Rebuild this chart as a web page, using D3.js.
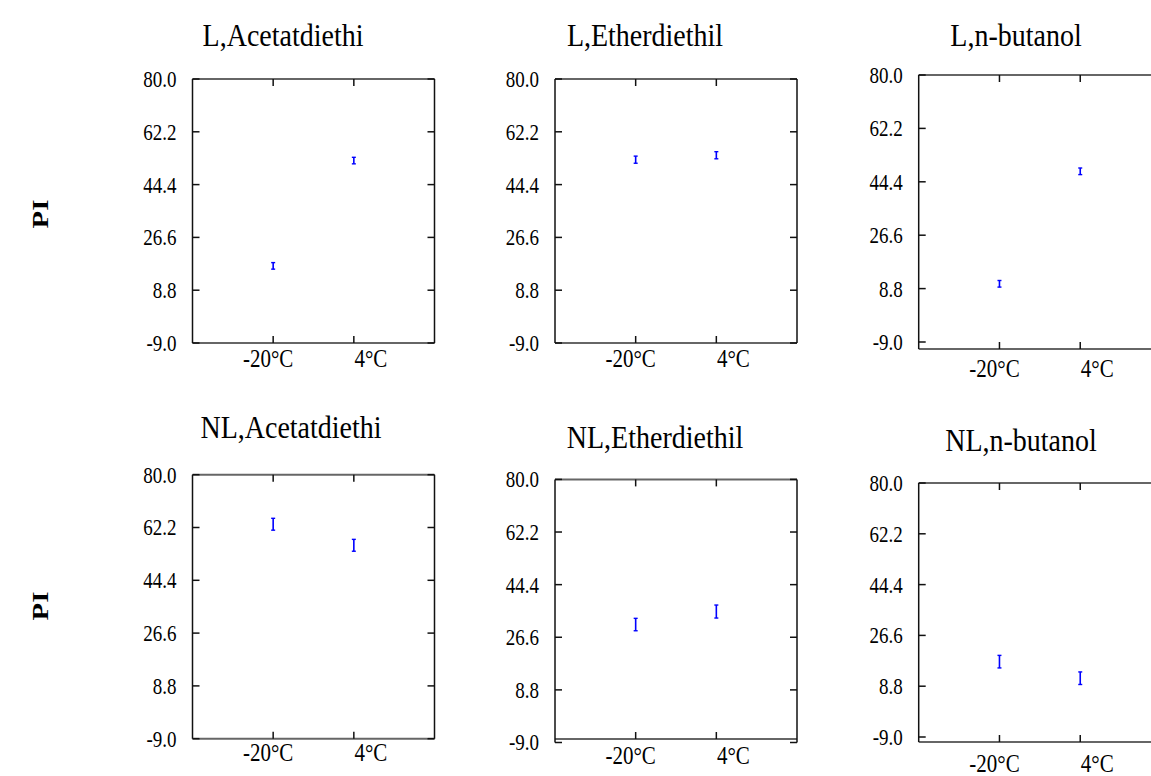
<!DOCTYPE html>
<html>
<head>
<meta charset="utf-8">
<script src="https://cdn.jsdelivr.net/npm/d3@7"></script>
<style>
  html, body { margin: 0; padding: 0; background: #fff; }
  svg { display: block; }
  text { font-family: "Liberation Serif", "Times New Roman", serif; fill: #000; }
</style>
</head>
<body>
<svg id="chart" width="1151" height="776"></svg>
<script>
// Panel titles (row-major: top row = L, bottom row = NL)
const panelTitles = ["L,Acetatdiethi", "L,Etherdiethil", "L,n-butanol",
                     "NL,Acetatdiethi", "NL,Etherdiethil", "NL,n-butanol"];
// Storage temperatures on the x axis
const categories = ["-20°C", "4°C"];
// Y tick values
const yTicks = [-9.0, 8.8, 26.6, 44.4, 62.2, 80.0];
const yDomain = [-9.0, 80.0];
// Mean PI per panel, per temperature
const meanPI = [
  [17.0, 52.5],
  [52.8, 54.3],
  [10.4, 47.9],
  [63.3, 56.2],
  [30.9, 35.3],
  [17.4, 11.6]
];
// Error half-widths per panel, per temperature
const errPI = [
  [1.1, 1.1],
  [1.2, 1.2],
  [1.1, 1.1],
  [2.0, 2.0],
  [2.1, 2.2],
  [2.2, 2.2]
];
const yLabel = "PI";

// Panel frames (pixels)
const layout = [
  {left: 192.5, right: 434.5, yTop: 79,    yBot: 343,   boxTop: 79,  boxBot: 343, labY: 358, title: [283, 35]},
  {left: 555,   right: 797,   yTop: 79,    yBot: 343,   boxTop: 79,  boxBot: 343, labY: 358, title: [645, 35]},
  {left: 918.7, right: 1161,  yTop: 75,    yBot: 342,   boxTop: 75,  boxBot: 349, labY: 368, title: [1016, 35]},
  {left: 192.5, right: 434.5, yTop: 474.7, yBot: 738.7, boxTop: 474.7, boxBot: 738.7, labY: 752, title: [291, 427]},
  {left: 555,   right: 797,   yTop: 479.4, yBot: 742.5, boxTop: 479.4, boxBot: 739, labY: 755, title: [655, 437]},
  {left: 918.7, right: 1161,  yTop: 483,   yBot: 737,   boxTop: 483, boxBot: 742, labY: 763, title: [1021, 440]}
];
const rowLabelY = [214, 606];

const svg = d3.select("#chart");
const tickLen = 7;
// plain hyphen for negative numbers
const fmt = v => d3.format(".1f")(v).replace("\u2212", "-");

layout.forEach((L, i) => {
  const g = svg.append("g");
  const x = d3.scalePoint().domain(categories).range([L.left, L.right]).padding(1);
  const y = d3.scaleLinear().domain(yDomain).range([L.yBot, L.yTop]);

  const vTop = Math.min(L.yTop, L.boxTop), vBot = Math.max(L.yBot, L.boxBot);

  // frame: horizontal edges grey, vertical edges dark
  g.append("line").attr("x1", L.left).attr("x2", L.right).attr("y1", L.boxTop).attr("y2", L.boxTop)
    .attr("stroke", "#666").attr("stroke-width", 2);
  g.append("line").attr("x1", L.left).attr("x2", L.right).attr("y1", L.boxBot).attr("y2", L.boxBot)
    .attr("stroke", "#666").attr("stroke-width", 2);
  [L.left, L.right].forEach(xx => {
    g.append("line").attr("x1", xx).attr("x2", xx).attr("y1", vTop).attr("y2", vBot)
      .attr("stroke", "#111").attr("stroke-width", 1.5);
  });

  // y ticks (inside, both sides) and labels
  yTicks.forEach(t => {
    const yy = y(t);
    g.append("line").attr("x1", L.left).attr("x2", L.left + tickLen).attr("y1", yy).attr("y2", yy)
      .attr("stroke", "#111").attr("stroke-width", 1.5);
    g.append("line").attr("x1", L.right - tickLen).attr("x2", L.right).attr("y1", yy).attr("y2", yy)
      .attr("stroke", "#111").attr("stroke-width", 1.5);
    g.append("text")
      .attr("transform", `translate(${L.left - 16},${yy}) scale(1,1.2)`)
      .attr("text-anchor", "end").attr("dy", "0.35em")
      .style("font-size", "19px")
      .text(fmt(t));
  });

  // x ticks (inside, top and bottom) and labels
  const labDx = [-5, 17];
  categories.forEach((c, k) => {
    const xx = x(c);
    g.append("line").attr("x1", xx).attr("x2", xx).attr("y1", L.boxTop).attr("y2", L.boxTop + tickLen)
      .attr("stroke", "#111").attr("stroke-width", 1.5);
    g.append("line").attr("x1", xx).attr("x2", xx).attr("y1", L.boxBot - tickLen).attr("y2", L.boxBot)
      .attr("stroke", "#111").attr("stroke-width", 1.5);
    g.append("text")
      .attr("transform", `translate(${xx + labDx[k]},${L.labY}) scale(1,1.2)`)
      .attr("text-anchor", "middle").attr("dy", "0.35em")
      .style("font-size", "21px")
      .text(c);
  });

  // title
  g.append("text")
    .attr("transform", `translate(${L.title[0]},${L.title[1]}) scale(1,1.15)`)
    .attr("text-anchor", "middle").attr("dy", "0.35em")
    .style("font-size", "28px")
    .text(panelTitles[i]);

  // error bars
  categories.forEach((c, k) => {
    const xx = x(c), m = meanPI[i][k], e = errPI[i][k];
    const y1 = y(m + e), y2 = y(m - e);
    g.append("line").attr("x1", xx).attr("x2", xx).attr("y1", y1).attr("y2", y2)
      .attr("stroke", "#0000ff").attr("stroke-width", 1.6);
    [y1, y2].forEach(yy => {
      g.append("line").attr("x1", xx - 2).attr("x2", xx + 2).attr("y1", yy).attr("y2", yy)
        .attr("stroke", "#0000ff").attr("stroke-width", 1.4);
    });
  });
});

// row labels
rowLabelY.forEach(yy => {
  svg.append("text")
    .attr("transform", `translate(40,${yy}) rotate(-90) scale(1.2,1)`)
    .attr("text-anchor", "middle").attr("dy", "0.35em")
    .style("font-size", "24px").style("font-weight", "bold")
    .text(yLabel);
});
</script>
</body>
</html>
